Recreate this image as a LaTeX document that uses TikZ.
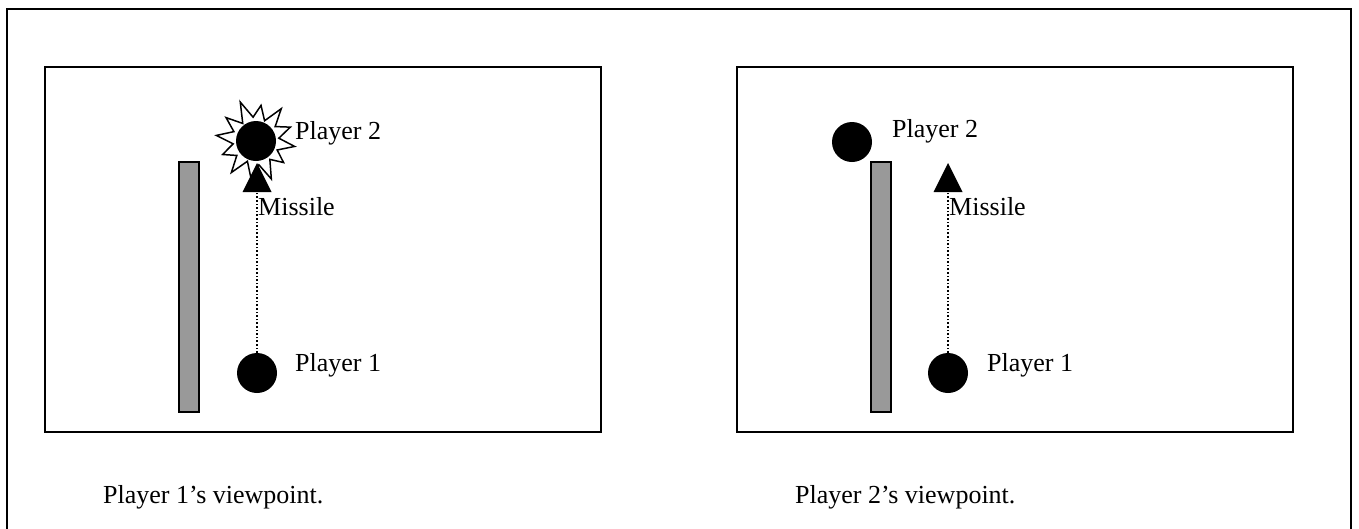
\documentclass[tikz,border=0pt]{standalone}
\usepackage{fontspec}
\setmainfont{Liberation Serif}
\usetikzlibrary{calc, positioning}

\begin{document}
\begin{tikzpicture}[x=1pt, y=-1pt, font=\fontsize{26}{31}\selectfont,
  panel/.style={draw, line width=2pt},
  wall/.style={draw, line width=1.6pt, fill=black!40},
  player/.style={circle, fill=black, minimum size=40pt, inner sep=0pt},
  lbl/.style={anchor=base west, inner sep=0pt},
  trail/.style={dotted, line width=1.6pt}]
\useasboundingbox (0,0) rectangle (1359,528);
% outer frame (bottom edge runs off the page)
\draw[line width=2pt] (7,545) -- (7,9) -- (1351,9) -- (1351,545);
% left panel: player 1's view
\draw[panel] (45,67) rectangle (601,432);
\draw[wall] (179,162) rectangle (199,412);
\node[player] (p1A) at (257,373) {};
\node[player] (p2A) at (256,141) {};
\draw[line width=1.5pt, fill=white, line join=miter]
  ($(p2A.center)+(8:39)$)
  \foreach \a/\r in {23/23, 38/35, 53/23, 68/41, 83/24, 98/37, 113/22, 128/40, 143/24, 158/36,
                     173/23, 188/40, 203/24, 218/38, 233/22, 248/42, 263/24, 278/36, 293/22,
                     308/41, 323/24, 338/37, 353/23} { -- ($(p2A.center)+(\a:\r)$) } -- cycle;
\node[player] at (p2A) {};
\coordinate (mslA) at (257,192);
\fill (mslA) -- ++(-14.5,0) -- ++(14.5,-29) -- ++(14.5,29) -- cycle;
\draw[trail] (p1A.north) -- (mslA);
\node[lbl] (p2lblA) at (295,139) {Player 2};
\node[lbl] (msllblA) at (258,215) {Missile};
\node[lbl] (p1lblA) at (295,371) {Player 1};
\node[lbl] (capA) at (103,503) {Player 1’s viewpoint.};
% right panel: player 2's view
\draw[panel] (737,67) rectangle (1293,432);
\draw[wall] (871,162) rectangle (891,412);
\node[player] (p1B) at (948,373) {};
\node[player] (p2B) at (852,142) {};
\coordinate (mslB) at (948,192);
\fill (mslB) -- ++(-14.5,0) -- ++(14.5,-29) -- ++(14.5,29) -- cycle;
\draw[trail] (p1B.north) -- (mslB);
\node[lbl] (p2lblB) at (892,137) {Player 2};
\node[lbl] (msllblB) at (949,215) {Missile};
\node[lbl] (p1lblB) at (987,371) {Player 1};
\node[lbl] (capB) at (795,503) {Player 2’s viewpoint.};
\end{tikzpicture}
\end{document}
